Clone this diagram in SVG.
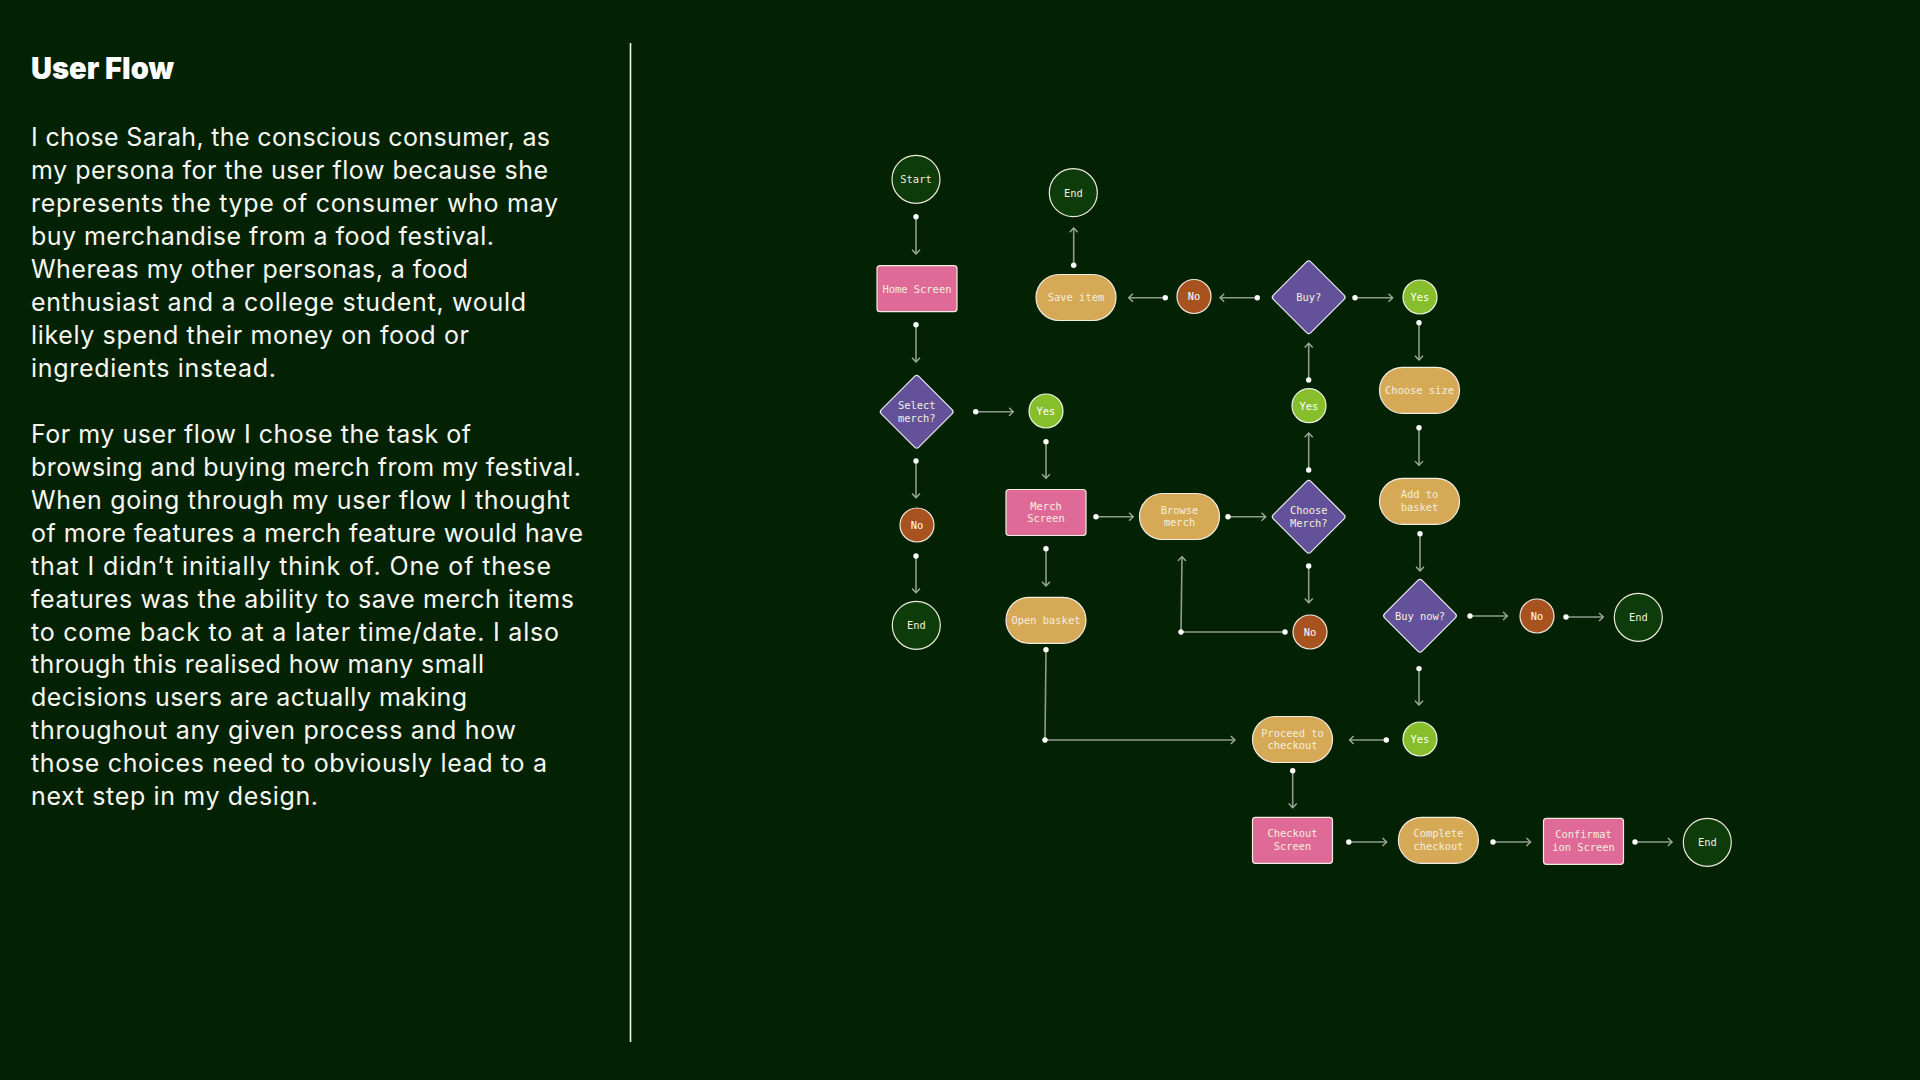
<svg xmlns="http://www.w3.org/2000/svg" width="1920" height="1080" viewBox="0 0 1920 1080">
<defs>
<style>
.bg{fill:#032203}
.title{font-family:Inter,"Noto Sans",sans-serif;font-weight:900;font-size:30px;fill:#ffffff}
.body{font-family:Inter,"Noto Sans",sans-serif;font-size:25px;fill:#f7f7f2}
.lbl{font-family:"DejaVu Sans Mono","Liberation Mono",monospace;font-size:10.4px;fill:#f4eedd;text-anchor:middle}
.wl{fill:#ffffff}
.term{fill:#0d3c0a;stroke:#eeeadc;stroke-width:1.2}
.scr{fill:#df6a98;stroke:#f3ece2;stroke-width:1.2}
.act{fill:#d6a957;stroke:#f3ece2;stroke-width:1.2}
.dec{fill:#63529a;stroke:#ece8f2;stroke-width:1.2}
.yes{fill:#86bf2b;stroke:#eef3e2;stroke-width:1.2}
.no{fill:#a8531f;stroke:#f1e6dc;stroke-width:1.2}
.con{fill:none;stroke:#8e9c8b;stroke-width:1.6;marker-start:url(#dot);marker-end:url(#arr)}
.conm{fill:none;stroke:#8e9c8b;stroke-width:1.6;marker-start:url(#dot);marker-mid:url(#dot);marker-end:url(#arr)}
</style>
<marker id="dot" markerUnits="userSpaceOnUse" markerWidth="8" markerHeight="8" refX="4" refY="4" orient="auto" overflow="visible">
<circle cx="4" cy="4" r="2.7" fill="#ffffff"/>
</marker>
<marker id="arr" markerUnits="userSpaceOnUse" markerWidth="10" markerHeight="10" refX="0" refY="0" orient="auto" overflow="visible">
<path d="M-4.2,-4 L0,0 L-4.2,4" fill="none" stroke="#a4b0a1" stroke-width="1.3"/>
</marker>
<rect id="rbox" x="-40" y="-23" width="80" height="46" rx="3"/>
<rect id="pill" x="-40" y="-23" width="80" height="46" rx="23"/>
<rect id="dia" x="-26.5" y="-26.5" width="53" height="53" rx="3" transform="rotate(45)"/>
</defs>

<rect class="bg" x="0" y="0" width="1920" height="1080"/>

<g id="intro">
<text class="title" x="31" y="79" textLength="143" lengthAdjust="spacingAndGlyphs">User Flow</text>
<text class="body" x="31" y="146" textLength="519" lengthAdjust="spacing">I chose Sarah, the conscious consumer, as</text>
<text class="body" x="31" y="179" textLength="517" lengthAdjust="spacing">my persona for the user flow because she</text>
<text class="body" x="31" y="212" textLength="527" lengthAdjust="spacing">represents the type of consumer who may</text>
<text class="body" x="31" y="245" textLength="463" lengthAdjust="spacing">buy merchandise from a food festival.</text>
<text class="body" x="31" y="278" textLength="437" lengthAdjust="spacing">Whereas my other personas, a food</text>
<text class="body" x="31" y="311" textLength="495" lengthAdjust="spacing">enthusiast and a college student, would</text>
<text class="body" x="31" y="344" textLength="438" lengthAdjust="spacing">likely spend their money on food or</text>
<text class="body" x="31" y="377" textLength="245" lengthAdjust="spacing">ingredients instead.</text>
<text class="body" x="31" y="442.7" textLength="440" lengthAdjust="spacing">For my user flow I chose the task of</text>
<text class="body" x="31" y="475.7" textLength="550" lengthAdjust="spacing">browsing and buying merch from my festival.</text>
<text class="body" x="31" y="508.6" textLength="539" lengthAdjust="spacing">When going through my user flow I thought</text>
<text class="body" x="31" y="541.6" textLength="552" lengthAdjust="spacing">of more features a merch feature would have</text>
<text class="body" x="31" y="574.5" textLength="520" lengthAdjust="spacing">that I didn’t initially think of. One of these</text>
<text class="body" x="31" y="607.5" textLength="543" lengthAdjust="spacing">features was the ability to save merch items</text>
<text class="body" x="31" y="640.5" textLength="528" lengthAdjust="spacing">to come back to at a later time/date. I also</text>
<text class="body" x="31" y="673.4" textLength="453" lengthAdjust="spacing">through this realised how many small</text>
<text class="body" x="31" y="706.4" textLength="436" lengthAdjust="spacing">decisions users are actually making</text>
<text class="body" x="31" y="739.3" textLength="485" lengthAdjust="spacing">throughout any given process and how</text>
<text class="body" x="31" y="772.3" textLength="516" lengthAdjust="spacing">those choices need to obviously lead to a</text>
<text class="body" x="31" y="805.3" textLength="287" lengthAdjust="spacing">next step in my design.</text>
</g>

<line id="divider" x1="630.5" y1="43" x2="630.5" y2="1042" stroke="#f2f2f2" stroke-width="1.6"/>

<g id="connectors">
<path class="con" d="M916,216.7 L916,254"/>
<path class="con" d="M916,324.7 L916,362"/>
<path class="con" d="M975.7,411.7 L1013.3,411.7"/>
<path class="con" d="M916,461 L916,497.7"/>
<path class="con" d="M916,556 L916,592.7"/>
<path class="con" d="M1046,441.7 L1046,478.3"/>
<path class="con" d="M1096,516.7 L1133.3,516.7"/>
<path class="con" d="M1046,548.7 L1046,586"/>
<path class="con" d="M1228,516.7 L1265.7,516.7"/>
<path class="con" d="M1308.7,470 L1308.7,433"/>
<path class="con" d="M1308.7,380 L1308.7,343.3"/>
<path class="con" d="M1308.7,566 L1308.7,602.7"/>
<path class="conm" d="M1285,632 L1181,632 L1182,556.7"/>
<path class="con" d="M1257.3,297.7 L1220,297.7"/>
<path class="con" d="M1165.3,297.7 L1128.7,297.7"/>
<path class="con" d="M1073.7,265.3 L1073.7,228"/>
<path class="con" d="M1355,297.7 L1392.7,297.7"/>
<path class="con" d="M1419,322.7 L1419,360"/>
<path class="con" d="M1419,427.7 L1419,465.3"/>
<path class="con" d="M1420,533.7 L1420,571"/>
<path class="con" d="M1470,616 L1507.3,616"/>
<path class="con" d="M1566,617 L1603.3,617"/>
<path class="con" d="M1419,668.6 L1419,705"/>
<path class="con" d="M1386.3,740 L1349.5,740"/>
<path class="conm" d="M1046,649.7 L1045,740 L1235,740"/>
<path class="con" d="M1292.7,770.7 L1292.7,807.7"/>
<path class="con" d="M1348.8,842 L1386.7,842"/>
<path class="con" d="M1493,842 L1530.6,842"/>
<path class="con" d="M1635,842 L1672.1,842"/>
</g>

<g id="start"><circle class="term" cx="916" cy="179.3" r="24"/><text class="lbl" x="916" y="183.1">Start</text></g>
<g id="home-screen"><use href="#rbox" class="scr" x="917" y="288.7"/><text class="lbl" x="917" y="292.5">Home Screen</text></g>
<g id="select-merch"><use href="#dia" class="dec" x="916.7" y="411.7"/><text class="lbl" x="916.7" y="409.1">Select</text><text class="lbl" x="916.7" y="421.8">merch?</text></g>
<g id="no-select"><circle class="no" cx="917" cy="525" r="17"/><text class="lbl wl" x="917" y="528.8">No</text></g>
<g id="end-select"><circle class="term" cx="916.3" cy="625.3" r="24"/><text class="lbl" x="916.3" y="629.1">End</text></g>
<g id="yes-select"><circle class="yes" cx="1046" cy="411" r="17"/><text class="lbl wl" x="1046" y="414.8">Yes</text></g>
<g id="merch-screen"><use href="#rbox" class="scr" x="1046" y="512.5"/><text class="lbl" x="1046" y="509.6">Merch</text><text class="lbl" x="1046" y="522.3">Screen</text></g>
<g id="open-basket"><use href="#pill" class="act" x="1046" y="620.3"/><text class="lbl" x="1046" y="624.1">Open basket</text></g>
<g id="browse-merch"><use href="#pill" class="act" x="1179.5" y="516.5"/><text class="lbl" x="1179.5" y="513.6">Browse</text><text class="lbl" x="1179.5" y="526.3">merch</text></g>
<g id="choose-merch"><use href="#dia" class="dec" x="1308.7" y="516.7"/><text class="lbl" x="1308.7" y="513.8">Choose</text><text class="lbl" x="1308.7" y="526.5">Merch?</text></g>
<g id="no-choose"><circle class="no" cx="1310" cy="632" r="17"/><text class="lbl wl" x="1310" y="635.8">No</text></g>
<g id="yes-choose"><circle class="yes" cx="1309" cy="405.7" r="17"/><text class="lbl wl" x="1309" y="409.5">Yes</text></g>
<g id="buy"><use href="#dia" class="dec" x="1308.7" y="297.3"/><text class="lbl" x="1308.7" y="301.1">Buy?</text></g>
<g id="no-buy"><circle class="no" cx="1194" cy="296.5" r="17"/><text class="lbl wl" x="1194" y="300.3">No</text></g>
<g id="save-item"><use href="#pill" class="act" x="1076" y="297.5"/><text class="lbl" x="1076" y="301.3">Save item</text></g>
<g id="end-save"><circle class="term" cx="1073.3" cy="192.7" r="24"/><text class="lbl" x="1073.3" y="196.5">End</text></g>
<g id="yes-buy"><circle class="yes" cx="1420" cy="297" r="17"/><text class="lbl wl" x="1420" y="300.8">Yes</text></g>
<g id="choose-size"><use href="#pill" class="act" x="1419.5" y="390.3"/><text class="lbl" x="1419.5" y="394.1">Choose size</text></g>
<g id="add-to-basket"><use href="#pill" class="act" x="1419.5" y="501.3"/><text class="lbl" x="1419.5" y="498.4">Add to</text><text class="lbl" x="1419.5" y="511.1">basket</text></g>
<g id="buy-now"><use href="#dia" class="dec" x="1420" y="615.7"/><text class="lbl" x="1420" y="619.5">Buy now?</text></g>
<g id="no-buy-now"><circle class="no" cx="1537" cy="616" r="17"/><text class="lbl wl" x="1537" y="619.8">No</text></g>
<g id="end-buy-now"><circle class="term" cx="1638.3" cy="617.3" r="24"/><text class="lbl" x="1638.3" y="621.1">End</text></g>
<g id="yes-buy-now"><circle class="yes" cx="1420" cy="739" r="17"/><text class="lbl wl" x="1420" y="742.8">Yes</text></g>
<g id="proceed-checkout"><use href="#pill" class="act" x="1292.5" y="739.5"/><text class="lbl" x="1292.5" y="736.6">Proceed to</text><text class="lbl" x="1292.5" y="749.3">checkout</text></g>
<g id="checkout-screen"><use href="#rbox" class="scr" x="1292.5" y="840.3"/><text class="lbl" x="1292.5" y="837.4">Checkout</text><text class="lbl" x="1292.5" y="850.1">Screen</text></g>
<g id="complete-checkout"><use href="#pill" class="act" x="1438.4" y="840.3"/><text class="lbl" x="1438.4" y="837.4">Complete</text><text class="lbl" x="1438.4" y="850.1">checkout</text></g>
<g id="confirmation-screen"><use href="#rbox" class="scr" x="1583.5" y="841.3"/><text class="lbl" x="1583.5" y="838.4">Confirmat</text><text class="lbl" x="1583.5" y="851.1">ion Screen</text></g>
<g id="end-final"><circle class="term" cx="1707.3" cy="842.3" r="24"/><text class="lbl" x="1707.3" y="846.1">End</text></g>
</svg>
